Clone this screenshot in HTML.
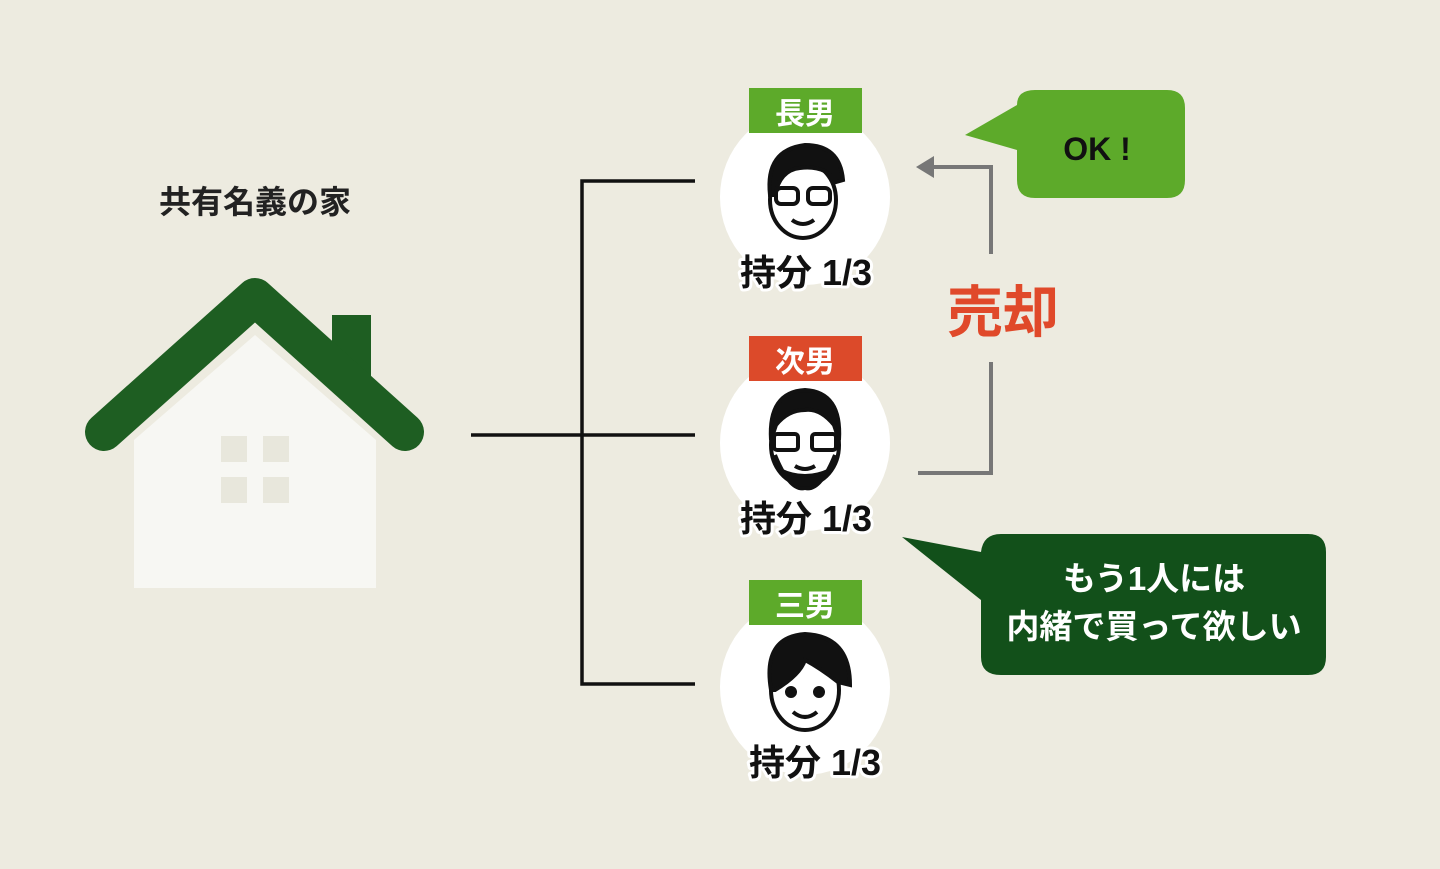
<!DOCTYPE html>
<html><head><meta charset="utf-8"><style>
body{margin:0;width:1440px;height:864px;overflow:hidden;background:#EDEBE0;}
svg text{font-family:"Liberation Sans","Noto Sans CJK JP",sans-serif;font-weight:bold;}
</style></head><body>
<svg width="1440" height="864" viewBox="0 0 1440 864">
<rect width="1440" height="864" fill="#EDEBE0"/>
<text x="255" y="213" font-size="32" text-anchor="middle" fill="#222">共有名義の家</text>
<!-- house -->
<polygon points="134,440 255,335 376,440 376,588 134,588" fill="#F7F7F3"/>
<rect x="332" y="315" width="39" height="75" fill="#1E5E22"/>
<polyline points="104,432 255,297 405,432" fill="none" stroke="#1E5E22" stroke-width="38" stroke-linejoin="round" stroke-linecap="round"/>
<g fill="#E8E7DC"><rect x="221" y="436" width="26" height="26"/><rect x="263" y="436" width="26" height="26"/><rect x="221" y="477" width="26" height="26"/><rect x="263" y="477" width="26" height="26"/></g>
<!-- tree lines -->
<g stroke="#111" stroke-width="3.5" fill="none">
<line x1="471" y1="435" x2="695" y2="435"/>
<polyline points="695,181 582,181 582,684 695,684"/>
</g>
<!-- gray arrow -->
<g stroke="#777" stroke-width="4" fill="none">
<polyline points="918,473 991,473 991,362"/>
<polyline points="991,254 991,167 930,167"/>
</g>
<polygon points="916,167 934,156 934,178" fill="#777"/>
<text x="1003" y="332" font-size="56" text-anchor="middle" fill="#E0492A">売却</text>
<!-- bubbles -->
<path d="M1035,90 H1167 Q1185,90 1185,108 V180 Q1185,198 1167,198 H1035 Q1017,198 1017,180 V150 L965,135 L1017,105 Q1017,90 1035,90Z" fill="#5DAA2A"/>
<text x="1097" y="160" font-size="32" text-anchor="middle" fill="#111">OK !</text>
<path d="M1001,534 H1308 Q1326,534 1326,552 V657 Q1326,675 1308,675 H1001 Q981,675 981,657 V600 L902,537 L981,552 Q983,534 1001,534Z" fill="#12501A"/>
<text x="1154" y="590" font-size="33" text-anchor="middle" fill="#fff">もう1人には</text>
<text x="1154" y="638" font-size="33" text-anchor="middle" fill="#fff">内緒で買って欲しい</text>
<g>
<ellipse cx="805" cy="197" rx="85" ry="88" fill="#fff"/>
<ellipse cx="805" cy="443" rx="85" ry="88" fill="#fff"/>
<ellipse cx="805" cy="687" rx="85" ry="88" fill="#fff"/>
</g>
<!-- faces -->
<g stroke="#111" stroke-width="4" fill="#fff">
<ellipse cx="803" cy="200" rx="33" ry="38"/>
<path d="M770,195 Q765,150 805,145 Q840,145 843,180 L836,182 Q826,165 800,168 Q780,170 775,195Z" fill="#111"/>
<rect x="776" y="188" width="22" height="16" rx="5" fill="none"/><rect x="808" y="188" width="22" height="16" rx="5" fill="none"/>
<path d="M792,220 Q803,228 814,220" fill="none"/>
<ellipse cx="805" cy="445" rx="34" ry="40"/>
<path d="M771,440 Q768,392 805,390 Q842,392 839,440 L834,425 Q820,408 805,410 Q788,410 776,425Z" fill="#111"/>
<path d="M775,455 Q790,492 805,488 Q820,492 835,455 L830,470 Q805,482 780,470Z" fill="#111"/>
<rect x="774" y="434" width="24" height="16" rx="3" fill="none"/><rect x="812" y="434" width="24" height="16" rx="3" fill="none"/>
<path d="M795,466 Q805,472 815,466" fill="none"/>
<ellipse cx="805" cy="690" rx="34" ry="40"/>
<path d="M771,690 Q762,637 805,634 Q850,636 850,685 L838,682 Q820,668 805,660 Q800,675 775,690Z" fill="#111"/>
<circle cx="791" cy="692" r="4" fill="#111"/><circle cx="819" cy="692" r="4" fill="#111"/>
<path d="M793,712 Q805,722 817,712" fill="none"/>
</g>
<!-- tags -->
<rect x="749" y="88" width="113" height="45" fill="#5DAA2A"/>
<text x="805" y="124" font-size="30" text-anchor="middle" fill="#fff">長男</text>
<rect x="749" y="336" width="113" height="45" fill="#DC4A2A"/>
<text x="805" y="372" font-size="30" text-anchor="middle" fill="#fff">次男</text>
<rect x="749" y="580" width="113" height="45" fill="#5DAA2A"/>
<text x="805" y="616" font-size="30" text-anchor="middle" fill="#fff">三男</text>
<g font-size="36" text-anchor="middle" fill="#111" stroke="#fff" stroke-width="6" paint-order="stroke" stroke-linejoin="round">
<text x="806" y="285">持分 1/3</text>
<text x="806" y="531">持分 1/3</text>
<text x="815" y="775">持分 1/3</text>
</g>
</svg>
</body></html>
